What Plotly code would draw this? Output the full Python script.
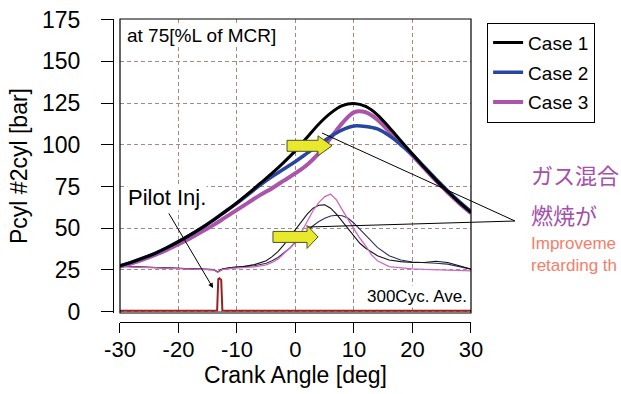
import plotly.graph_objects as go

# ---------------- data ----------------
ANGLE_P = [-30, -28, -26, -24, -22, -20, -18, -16, -14, -12, -10, -8, -6, -4, -2, 0,
           2, 4, 6, 8, 10, 12, 14, 16, 18, 20, 22, 24, 26, 28, 30]
CASE1_P = [27.5, 29.7, 32.2, 35.0, 38.3, 42.0, 46.0, 50.3, 55.0, 60.0, 65.3, 71.0, 77.0, 83.0, 89.5, 96.5,
           104.5, 112.5, 119.0, 123.5, 124.8, 123.0, 118.0, 110.5, 102.5, 94.5, 86.5, 79.0, 72.0, 65.5, 59.5]
CASE2_P = [27.5, 29.7, 32.2, 35.0, 38.3, 42.0, 46.0, 50.3, 55.0, 60.0, 65.0, 70.5, 76.0, 81.0, 85.5, 90.0,
           95.0, 100.0, 105.0, 109.0, 111.3, 111.0, 109.5, 105.5, 100.0, 94.0, 86.8, 79.5, 72.5, 66.0, 60.0]
CASE3_P = [27.0, 29.0, 31.3, 34.0, 37.0, 40.5, 44.0, 48.0, 52.0, 56.5, 61.0, 65.5, 70.0, 74.0, 78.5, 83.0,
           88.0, 95.0, 104.0, 113.0, 119.5, 119.5, 115.0, 108.0, 101.0, 93.5, 86.0, 78.5, 71.5, 65.0, 59.0]

ANGLE_R = [-30, -26, -22, -18, -15, -14, -13.3, -12.5, -11, -9, -7, -5, -4, -3, -2, -1, 0,
           1, 2, 3, 4, 5, 6, 7, 8, 9, 10, 11, 12, 13, 14, 16, 18, 20, 22, 24, 26, 28, 30]
CASE1_R = [27.2, 26.8, 26.4, 26.0, 25.6, 25.2, 23.8, 25.6, 26.4, 27.0, 28.2, 30.5, 33.0, 36.0, 40.0, 44.5, 49.5,
           54.0, 58.5, 62.0, 63.8, 64.0, 62.0, 58.5, 54.0, 49.5, 45.0, 41.0, 38.0, 35.5, 33.5, 31.0, 30.0, 29.5,
           29.5, 30.2, 29.5, 27.5, 25.5]
CASE2_R = [27.2, 26.8, 26.4, 26.0, 25.6, 25.2, 23.8, 25.6, 26.4, 26.8, 27.5, 29.0, 30.5, 32.5, 35.0, 38.0, 41.5,
           45.0, 48.5, 51.5, 54.0, 56.0, 57.3, 57.8, 57.5, 56.0, 53.0, 49.5, 46.0, 42.0, 38.5, 33.5, 31.0, 29.8,
           29.2, 29.0, 28.5, 27.2, 25.5]
CASE3_R = [27.0, 26.5, 26.2, 25.8, 25.4, 25.0, 23.5, 25.2, 26.0, 26.3, 26.8, 28.0, 29.5, 31.5, 34.5, 38.0, 42.0,
           47.5, 54.0, 60.5, 65.5, 69.0, 70.5, 67.0, 61.0, 55.0, 49.5, 44.0, 39.5, 34.0, 30.5, 27.0, 26.2, 25.7,
           25.3, 25.0, 25.0, 24.8, 24.5]

INJ_X = [-30, -13.4, -13.2, -13.0, -12.7, -12.5, 30]
INJ_Y = [0.5, 0.5, 19.5, 20.0, 19.0, 0.5, 0.5]

X_TICKS = [-30, -20, -10, 0, 10, 20, 30]
X_TICK_LABELS = ["-30", "-20", "-10", "0", "10", "20", "30"]
Y_TICKS = [0, 25, 50, 75, 100, 125, 150, 175]

FONT = "Liberation Sans, Arial, sans-serif"

fig = go.Figure()

# lower thin curves
fig.add_trace(go.Scatter(x=ANGLE_R, y=CASE2_R, mode="lines", showlegend=False, hoverinfo="skip",
                         line=dict(color="rgb(45,45,95)", width=1.1)))
fig.add_trace(go.Scatter(x=ANGLE_R, y=CASE1_R, mode="lines", showlegend=False, hoverinfo="skip",
                         line=dict(color="rgb(20,20,20)", width=1.1)))
fig.add_trace(go.Scatter(x=ANGLE_R, y=CASE3_R, mode="lines", showlegend=False, hoverinfo="skip",
                         line=dict(color="rgb(205,105,195)", width=1.3)))
# injection signal
fig.add_trace(go.Scatter(x=INJ_X, y=INJ_Y, mode="lines", showlegend=False, hoverinfo="skip",
                         line=dict(color="rgb(150,35,35)", width=2)))
# pressure curves
fig.add_trace(go.Scatter(x=ANGLE_P, y=CASE3_P, mode="lines", name="Case 3", legendrank=3, legendgroup="c3",
                         line=dict(color="rgb(170,85,170)", width=4, shape="spline")))
fig.add_trace(go.Scatter(x=ANGLE_P, y=CASE2_P, mode="lines", name="Case 2", legendrank=2, legendgroup="c2",
                         line=dict(color="rgb(40,70,160)", width=3.5, shape="spline")))
fig.add_trace(go.Scatter(x=ANGLE_P, y=CASE1_P, mode="lines", name="Case 1", legendrank=1, legendgroup="c1",
                         line=dict(color="black", width=3, shape="spline")))

grid = "rgb(170,135,135)"

fig.update_layout(
    width=621, height=394,
    margin=dict(l=113, r=150, t=19, b=72),
    paper_bgcolor="white", plot_bgcolor="white",
    font=dict(family=FONT, color="black"),
    xaxis=dict(domain=[0.01955, 1], range=[-30, 30], anchor="free", position=0,
               tickvals=X_TICKS, ticktext=X_TICK_LABELS, ticks="outside", ticklen=10, tickcolor="black",
               tickwidth=1, showline=True, linecolor="black", linewidth=1,
               showgrid=True, gridcolor=grid, griddash="4px,3px", gridwidth=1, zeroline=False,
               tickfont=dict(size=22, family=FONT), ticklabelstandoff=-2,
               title=dict(text="Crank Angle [deg]", font=dict(size=23, family=FONT), standoff=3),
               automargin=False),
    yaxis=dict(domain=[0.0297, 1], range=[-0.8, 175.4], anchor="free", position=0,
               tickvals=Y_TICKS, ticks="outside", ticklen=12, tickcolor="black", tickwidth=1,
               showline=True, linecolor="black", linewidth=1,
               showgrid=True, gridcolor=grid, griddash="4px,3px", gridwidth=1, zeroline=False,
               tickfont=dict(size=23, family=FONT), ticklabelstandoff=16,
               title=dict(text="Pcyl #2cyl [bar]", font=dict(size=23, family=FONT), standoff=6),
               automargin=False),
    legend=dict(x=1.045, y=0.988, xanchor="left", yanchor="top", bgcolor="white",
                bordercolor="black", borderwidth=1, font=dict(size=19, family=FONT),
                tracegroupgap=2, itemwidth=30),
    showlegend=True,
)

# plot frame
fig.add_shape(type="rect", xref="x domain", yref="y domain", x0=0, x1=1, y0=0, y1=1,
              line=dict(color="black", width=1.2), layer="above")

# yellow block arrows
fig.add_shape(type="path", xref="x", yref="y",
              path="M -1.45,96.1 L 3.85,96.1 L 3.85,93.4 L 6.24,99.4 L 3.85,105.4 L 3.85,102.7 L -1.45,102.7 Z",
              fillcolor="rgb(232,232,45)", line=dict(color="rgb(80,80,40)", width=1), layer="above")
fig.add_shape(type="path", xref="x", yref="y",
              path="M -3.85,41.5 L 1.97,41.5 L 1.97,37.9 L 3.85,44.8 L 1.97,51.7 L 1.97,48.1 L -3.85,48.1 Z",
              fillcolor="rgb(232,232,45)", line=dict(color="rgb(80,80,40)", width=1), layer="above")

# callout lines
fig.add_shape(type="line", xref="paper", yref="paper", x0=0.5838, y0=0.6238, x1=1.1229, y1=0.3333,
              line=dict(color="black", width=1), layer="above")
fig.add_shape(type="line", xref="paper", yref="paper", x0=0.5447, y0=0.3135, x1=1.1229, y1=0.3333,
              line=dict(color="black", width=1), layer="above")

# text annotations
fig.add_annotation(x=-28.9, y=165.5, xref="x", yref="y", text="at 75[%L of MCR]", showarrow=False,
                   xanchor="left", yanchor="middle", font=dict(size=19, family=FONT),
                   bgcolor="white", borderpad=0)
fig.add_annotation(x=29.6, y=8.8, xref="x", yref="y", text="300Cyc. Ave.", showarrow=False,
                   xanchor="right", yanchor="middle", font=dict(size=17, family=FONT),
                   bgcolor="white", borderpad=1)
fig.add_annotation(x=-28.8, y=68.2, xref="x", yref="y", text="Pilot Inj.", showarrow=False,
                   xanchor="left", yanchor="middle", font=dict(size=22, family=FONT),
                   bgcolor="white", borderpad=0)
fig.add_annotation(x=-14.1, y=14.2, xref="x", yref="y", ax=-21.8, ay=59.8, axref="x", ayref="y",
                   text="", showarrow=True, arrowhead=2, arrowsize=1, arrowwidth=1, arrowcolor="black")

# side explanation text (only the part visible inside the picture)
JP = "Noto Sans CJK JP, sans-serif"
fig.add_annotation(x=1.162, y=0.488, xref="paper", yref="paper", text="ガス混合", showarrow=False,
                   xanchor="left", yanchor="middle", font=dict(size=22, family=JP, color="rgb(165,80,170)"))
fig.add_annotation(x=1.162, y=0.355, xref="paper", yref="paper", text="燃焼が", showarrow=False,
                   xanchor="left", yanchor="middle", font=dict(size=22, family=JP, color="rgb(165,80,170)"))
fig.add_annotation(x=1.162, y=0.258, xref="paper", yref="paper", text="Improveme",
                   showarrow=False, xanchor="left", yanchor="middle",
                   font=dict(size=17, family=FONT, color="rgb(245,125,105)"))
fig.add_annotation(x=1.162, y=0.185, xref="paper", yref="paper", text="retarding th",
                   showarrow=False, xanchor="left", yanchor="middle",
                   font=dict(size=17, family=FONT, color="rgb(245,125,105)"))

fig.write_html("out.html")
